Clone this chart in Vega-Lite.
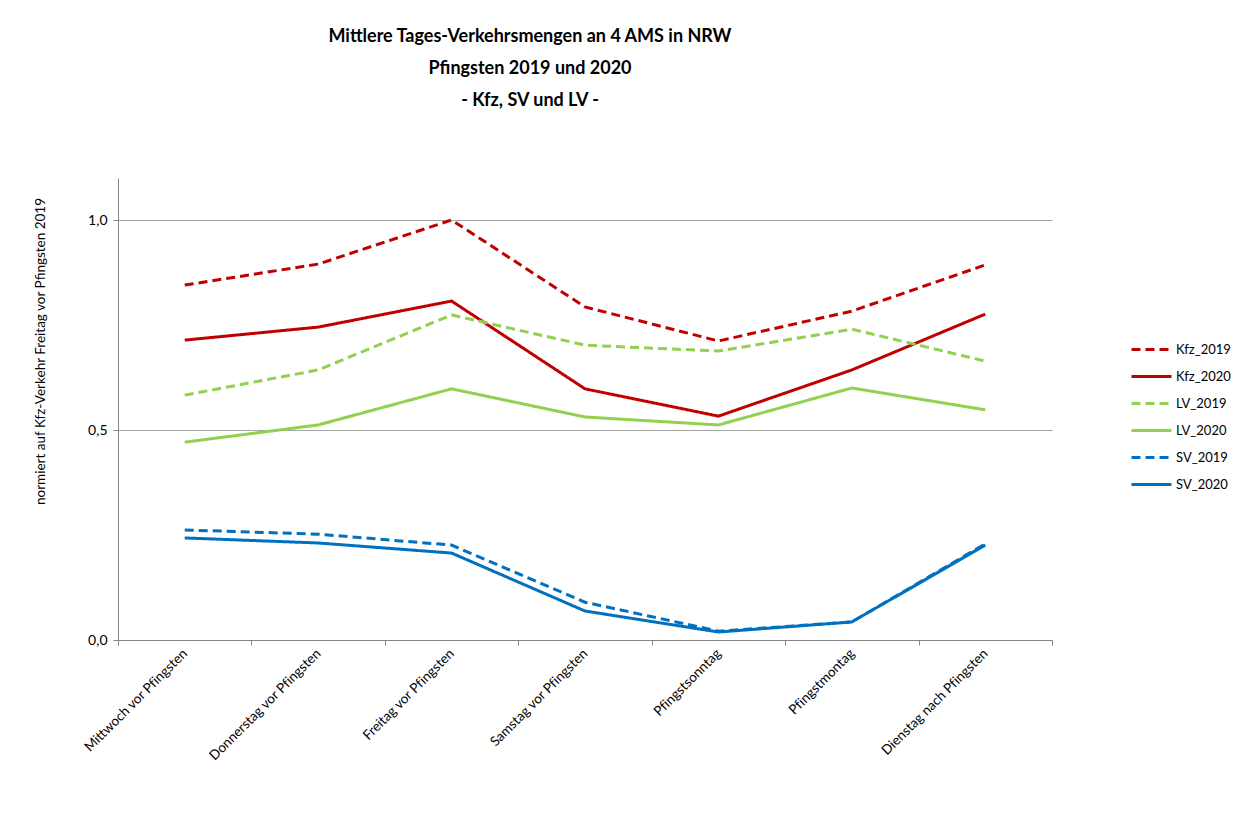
{
  "$schema": "https://vega.github.io/schema/vega-lite/v6.json",
  "autosize": {"type": "none"},
  "width": 934,
  "height": 462,
  "padding": {"left": 118, "top": 178, "right": 181, "bottom": 176},
  "background": "white",
  "title": {
    "text": ["Mittlere Tages-Verkehrsmengen an 4 AMS in NRW", "Pfingsten 2019 und 2020", "- Kfz, SV und LV -"],
    "anchor": "middle",
    "frame": "group",
    "dx": -55,
    "offset": 68,
    "font": "Lato",
    "fontSize": 18,
    "fontWeight": "bold",
    "lineHeight": 32,
    "color": "#000000"
  },
  "data": {
    "values": [
      {"day": "Mittwoch vor Pfingsten", "series": "Kfz_2019", "value": 0.845},
      {"day": "Donnerstag vor Pfingsten", "series": "Kfz_2019", "value": 0.895},
      {"day": "Freitag vor Pfingsten", "series": "Kfz_2019", "value": 1.0},
      {"day": "Samstag vor Pfingsten", "series": "Kfz_2019", "value": 0.793},
      {"day": "Pfingstsonntag", "series": "Kfz_2019", "value": 0.712},
      {"day": "Pfingstmontag", "series": "Kfz_2019", "value": 0.783},
      {"day": "Dienstag nach Pfingsten", "series": "Kfz_2019", "value": 0.893},
      {"day": "Mittwoch vor Pfingsten", "series": "Kfz_2020", "value": 0.714},
      {"day": "Donnerstag vor Pfingsten", "series": "Kfz_2020", "value": 0.745},
      {"day": "Freitag vor Pfingsten", "series": "Kfz_2020", "value": 0.807},
      {"day": "Samstag vor Pfingsten", "series": "Kfz_2020", "value": 0.598},
      {"day": "Pfingstsonntag", "series": "Kfz_2020", "value": 0.533},
      {"day": "Pfingstmontag", "series": "Kfz_2020", "value": 0.643},
      {"day": "Dienstag nach Pfingsten", "series": "Kfz_2020", "value": 0.776},
      {"day": "Mittwoch vor Pfingsten", "series": "LV_2019", "value": 0.583},
      {"day": "Donnerstag vor Pfingsten", "series": "LV_2019", "value": 0.643},
      {"day": "Freitag vor Pfingsten", "series": "LV_2019", "value": 0.774},
      {"day": "Samstag vor Pfingsten", "series": "LV_2019", "value": 0.702},
      {"day": "Pfingstsonntag", "series": "LV_2019", "value": 0.688},
      {"day": "Pfingstmontag", "series": "LV_2019", "value": 0.740},
      {"day": "Dienstag nach Pfingsten", "series": "LV_2019", "value": 0.664},
      {"day": "Mittwoch vor Pfingsten", "series": "LV_2020", "value": 0.471},
      {"day": "Donnerstag vor Pfingsten", "series": "LV_2020", "value": 0.512},
      {"day": "Freitag vor Pfingsten", "series": "LV_2020", "value": 0.598},
      {"day": "Samstag vor Pfingsten", "series": "LV_2020", "value": 0.531},
      {"day": "Pfingstsonntag", "series": "LV_2020", "value": 0.512},
      {"day": "Pfingstmontag", "series": "LV_2020", "value": 0.600},
      {"day": "Dienstag nach Pfingsten", "series": "LV_2020", "value": 0.548},
      {"day": "Mittwoch vor Pfingsten", "series": "SV_2019", "value": 0.262},
      {"day": "Donnerstag vor Pfingsten", "series": "SV_2019", "value": 0.252},
      {"day": "Freitag vor Pfingsten", "series": "SV_2019", "value": 0.226},
      {"day": "Samstag vor Pfingsten", "series": "SV_2019", "value": 0.090},
      {"day": "Pfingstsonntag", "series": "SV_2019", "value": 0.021},
      {"day": "Pfingstmontag", "series": "SV_2019", "value": 0.043},
      {"day": "Dienstag nach Pfingsten", "series": "SV_2019", "value": 0.229},
      {"day": "Mittwoch vor Pfingsten", "series": "SV_2020", "value": 0.243},
      {"day": "Donnerstag vor Pfingsten", "series": "SV_2020", "value": 0.231},
      {"day": "Freitag vor Pfingsten", "series": "SV_2020", "value": 0.207},
      {"day": "Samstag vor Pfingsten", "series": "SV_2020", "value": 0.069},
      {"day": "Pfingstsonntag", "series": "SV_2020", "value": 0.019},
      {"day": "Pfingstmontag", "series": "SV_2020", "value": 0.043},
      {"day": "Dienstag nach Pfingsten", "series": "SV_2020", "value": 0.226}
    ]
  },
  "mark": {"type": "line", "strokeWidth": 3, "strokeCap": "butt"},
  "encoding": {
    "x": {
      "field": "day",
      "type": "nominal",
      "sort": ["Mittwoch vor Pfingsten", "Donnerstag vor Pfingsten", "Freitag vor Pfingsten", "Samstag vor Pfingsten", "Pfingstsonntag", "Pfingstmontag", "Dienstag nach Pfingsten"],
      "scale": {"paddingInner": 0, "paddingOuter": 0},
      "axis": {
        "title": null,
        "labelAngle": -45,
        "labelAlign": "right",
        "labelBaseline": "middle",
        "labelExpr": "replace(datum.label, 'fi', 'f\u200ci')",
        "labelFont": "Lato",
        "labelFontSize": 13.5,
        "labelColor": "#000000",
        "labelPadding": 6,
        "tickBand": "extent",
        "tickSize": 5,
        "tickColor": "#868686",
        "domainColor": "#868686",
        "grid": false
      }
    },
    "y": {
      "field": "value",
      "type": "quantitative",
      "scale": {"domain": [0, 1.1], "nice": false},
      "axis": {
        "title": "normiert auf Kfz-Verkehr Freitag vor Pfingsten 2019",
        "titleFont": "Lato",
        "titleFontSize": 13.5,
        "titleFontWeight": "normal",
        "titleColor": "#000000",
        "titleX": -78,
        "titleY": 173,
        "titleAngle": -90,
        "titleAlign": "center",
        "titleBaseline": "middle",
        "values": [0, 0.5, 1.0],
        "labelExpr": "replace(format(datum.value, '.1f'), '.', ',')",
        "labelFont": "Lato",
        "labelFontSize": 14,
        "labelColor": "#000000",
        "labelPadding": 6,
        "tickSize": 5,
        "tickColor": "#868686",
        "domainColor": "#868686",
        "grid": true,
        "gridColor": "#A6A6A6",
        "gridWidth": 1
      }
    },
    "color": {
      "field": "series",
      "type": "nominal",
      "scale": {
        "domain": ["Kfz_2019", "Kfz_2020", "LV_2019", "LV_2020", "SV_2019", "SV_2020"],
        "range": ["#C00000", "#C00000", "#92D050", "#92D050", "#0070C0", "#0070C0"]
      },
      "legend": {
        "title": null,
        "orient": "none",
        "legendX": 1012,
        "legendY": 158,
        "symbolType": "stroke",
        "symbolSize": 1600,
        "symbolStrokeWidth": 3,
        "clipHeight": 27,
        "labelFont": "Lato",
        "labelFontSize": 13,
        "labelColor": "#000000",
        "labelOffset": 3,
        "rowPadding": 0
      }
    },
    "strokeDash": {
      "field": "series",
      "type": "nominal",
      "scale": {
        "domain": ["Kfz_2019", "Kfz_2020", "LV_2019", "LV_2020", "SV_2019", "SV_2020"],
        "range": [[9, 5], [1, 0], [9, 5], [1, 0], [9, 5], [1, 0]]
      },
      "legend": {
        "title": null,
        "orient": "none",
        "legendX": 1012,
        "legendY": 158,
        "symbolType": "stroke",
        "symbolSize": 1600,
        "symbolStrokeWidth": 3,
        "clipHeight": 27,
        "labelFont": "Lato",
        "labelFontSize": 13,
        "labelColor": "#000000",
        "labelOffset": 3,
        "rowPadding": 0
      }
    }
  },
  "config": {
    "view": {"stroke": null}
  }
}
